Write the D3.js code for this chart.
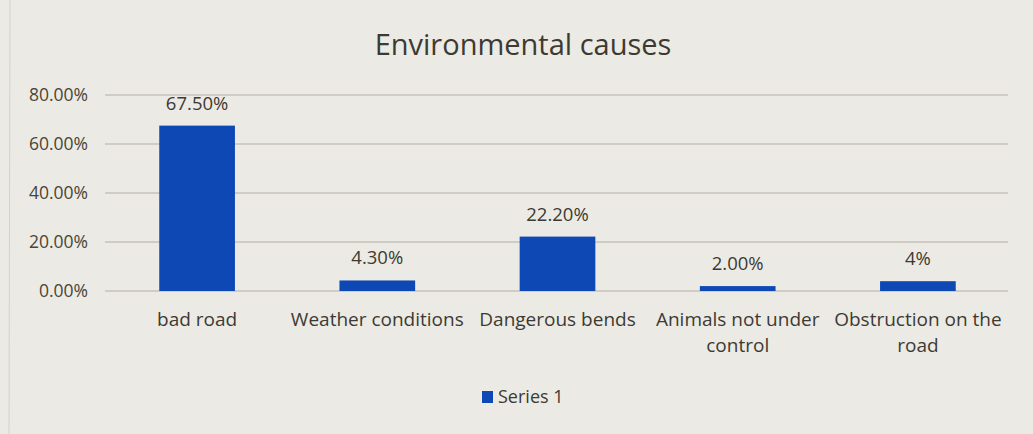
<!DOCTYPE html>
<html lang="en">
<head>
<meta charset="UTF-8" />
<title>Environmental causes</title>
<script src="https://d3js.org/d3.v7.min.js"></script>
<style>
    body { margin: 0; background: #eceae4; }
    svg { display: block; }
    svg text { font-family: "Open Sans", "Noto Sans", sans-serif; }
    .grid line { stroke: #b0aea5; stroke-width: 1px; }
</style>
</head>
<body>
<script>
    // data
    const categories = ["bad road", "Weather conditions", "Dangerous bends", "Animals not under control", "Obstruction on the road"];
    const values = [67.5, 4.3, 22.2, 2.0, 4.0];
    const valueLabels = ["67.50%", "4.30%", "22.20%", "2.00%", "4%"];
    const yTicks = [0, 20, 40, 60, 80];
    const seriesName = "Series 1";

    const width = 1033, height = 434;
    const margin = { top: 95, right: 25, bottom: 143, left: 107 };
    const chartWidth = width - margin.left - margin.right;
    const chartHeight = height - margin.top - margin.bottom;
    const barColor = "#0d48b5";
    const textColor = "#3d3a33";

    const svg = d3.select("body").append("svg")
        .attr("width", width)
        .attr("height", height);

    // faint page edge on the left
    svg.append("line")
        .attr("x1", 10).attr("x2", 9).attr("y1", 0).attr("y2", height)
        .attr("stroke", "#d4d2cb");

    svg.append("text")
        .attr("x", 523).attr("y", 55)
        .attr("text-anchor", "middle")
        .attr("font-size", 29)
        .attr("fill", textColor)
        .text("Environmental causes");

    const chart = svg.append("g")
        .attr("transform", `translate(${margin.left}, ${margin.top})`);

    const xScale = d3.scaleBand()
        .domain(categories)
        .range([0, chartWidth])
        .paddingInner(0.58)
        .paddingOuter(0.29);

    const yScale = d3.scaleLinear()
        .domain([0, 80])
        .range([chartHeight, 0]);

    // grid lines
    chart.append("g")
        .attr("class", "grid")
        .selectAll("line")
        .data(yTicks)
        .enter()
        .append("line")
        .attr("x1", -2)
        .attr("x2", chartWidth)
        .attr("y1", d => yScale(d))
        .attr("y2", d => yScale(d));

    // y axis (labels only)
    const yAxis = chart.append("g")
        .call(d3.axisLeft(yScale).tickValues(yTicks).tickSize(0).tickPadding(19)
            .tickFormat(d => d.toFixed(2) + "%"));
    yAxis.attr("font-family", null).attr("font-size", null);
    yAxis.select(".domain").remove();
    yAxis.selectAll(".tick text")
        .attr("font-size", 17.5)
        .attr("fill", "#4a4536");

    // bars
    chart.selectAll(".bar")
        .data(values)
        .enter()
        .append("rect")
        .attr("class", "bar")
        .attr("x", (d, i) => xScale(categories[i]))
        .attr("y", d => yScale(d))
        .attr("width", xScale.bandwidth())
        .attr("height", d => chartHeight - yScale(d))
        .attr("fill", barColor);

    // value labels
    chart.selectAll(".value")
        .data(values)
        .enter()
        .append("text")
        .attr("class", "value")
        .attr("x", (d, i) => xScale(categories[i]) + xScale.bandwidth() / 2)
        .attr("y", d => yScale(d) - 16)
        .attr("text-anchor", "middle")
        .attr("font-size", 18.5)
        .attr("fill", textColor)
        .text((d, i) => valueLabels[i]);

    // category labels, wrapped to the band width like the original
    const xAxis = chart.append("g")
        .attr("transform", `translate(0, ${chartHeight})`)
        .call(d3.axisBottom(xScale).tickSize(0).tickPadding(22));
    xAxis.attr("font-family", null).attr("font-size", null);
    xAxis.select(".domain").remove();
    xAxis.selectAll(".tick text")
        .attr("font-size", 19)
        .attr("fill", textColor)
        .each(function (d) {
            const t = d3.select(this);
            const maxW = xScale.step() - 2;
            const words = d.split(" ");
            t.text(null);
            let line = [];
            let tspan = t.append("tspan").attr("x", 0).attr("dy", "0.71em");
            words.forEach(w => {
                line.push(w);
                tspan.text(line.join(" "));
                if (tspan.node().getComputedTextLength() > maxW && line.length > 1) {
                    line.pop();
                    tspan.text(line.join(" "));
                    line = [w];
                    tspan = t.append("tspan").attr("x", 0).attr("dy", "1.32em").text(w);
                }
            });
        });

    // legend
    const legend = svg.append("g").attr("transform", "translate(482, 397)");
    legend.append("rect")
        .attr("x", 0).attr("y", -6)
        .attr("width", 11).attr("height", 12)
        .attr("fill", barColor);
    legend.append("text")
        .attr("x", 16).attr("y", 0)
        .attr("dy", "0.36em")
        .attr("font-size", 18)
        .attr("fill", textColor)
        .text(seriesName);
</script>
</body>
</html>
